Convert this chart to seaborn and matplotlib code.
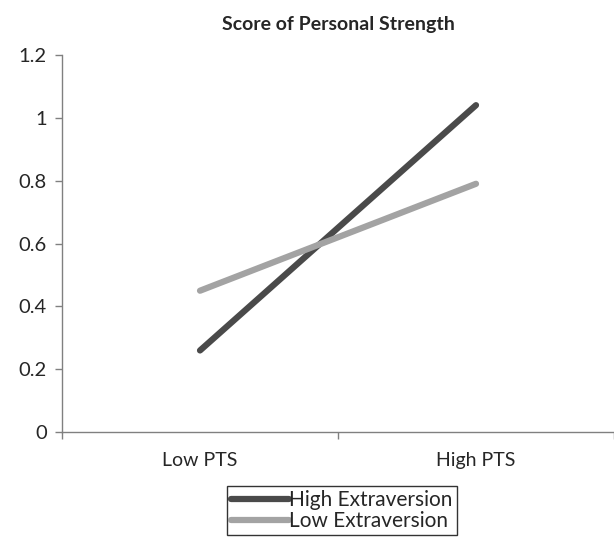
import matplotlib
matplotlib.use("Agg")
import matplotlib.pyplot as plt
import seaborn as sns
import pandas as pd

# data
categories = ["Low PTS", "High PTS"]
high_extraversion = [0.26, 1.04]
low_extraversion = [0.45, 0.79]
series_names = ["High Extraversion", "Low Extraversion"]

df = pd.DataFrame({
    "x": [0, 1, 0, 1],
    "score": high_extraversion + low_extraversion,
    "group": [series_names[0]] * 2 + [series_names[1]] * 2,
})

sns.set_style("white")
plt.rcParams['font.family'] = ['Lato', 'DejaVu Sans']

fig = plt.figure(figsize=(6.14, 5.43), dpi=100)
ax = fig.add_axes([0.101, 0.204, 0.899, 0.695])

sns.lineplot(data=df, x="x", y="score", hue="group",
             palette={series_names[0]: "#4a4a4a", series_names[1]: "#a3a3a3"},
             linewidth=4.5, ax=ax, legend=True)
for line in ax.lines:
    line.set_solid_capstyle("round")

ax.set_xlim(-0.5, 1.5)
ax.set_ylim(0, 1.2)
ax.set_yticks([0, 0.2, 0.4, 0.6, 0.8, 1.0, 1.2])
ax.set_yticklabels(["0", "0.2", "0.4", "0.6", "0.8", "1", "1.2"])
ax.set_xticks([0, 1])
ax.set_xticklabels(categories)
ax.set_xticks([-0.5, 0.5, 1.5], minor=True)
ax.tick_params(axis="x", which="major", bottom=True, length=0, pad=14, labelsize=14)
ax.tick_params(axis="x", which="minor", bottom=True, length=5, width=1,
               color="#808080", direction="out")
ax.tick_params(axis="y", left=True, length=5, width=1, color="#808080",
               direction="out", labelsize=14.5, pad=6)
ax.set_xlabel("")
ax.set_ylabel("")

for s in ["top", "right"]:
    ax.spines[s].set_visible(False)
for s in ["left", "bottom"]:
    ax.spines[s].set_color("#808080")
    ax.spines[s].set_linewidth(1)

ax.set_title("Score of Personal Strength", fontsize=14, fontweight="bold", pad=18)

leg = ax.legend(loc="upper center", bbox_to_anchor=(342 / 614, 1 - 486 / 543),
                bbox_transform=fig.transFigure, fontsize=15, frameon=True,
                fancybox=False, edgecolor="black", handlelength=2.8,
                handletextpad=0.0, labelspacing=0.05, borderpad=0.2,
                borderaxespad=0)
leg.get_frame().set_linewidth(1)
for h in leg.get_lines():
    h.set_linewidth(4.5)
    h.set_solid_capstyle("round")

fig.savefig("out.png", dpi=100)
